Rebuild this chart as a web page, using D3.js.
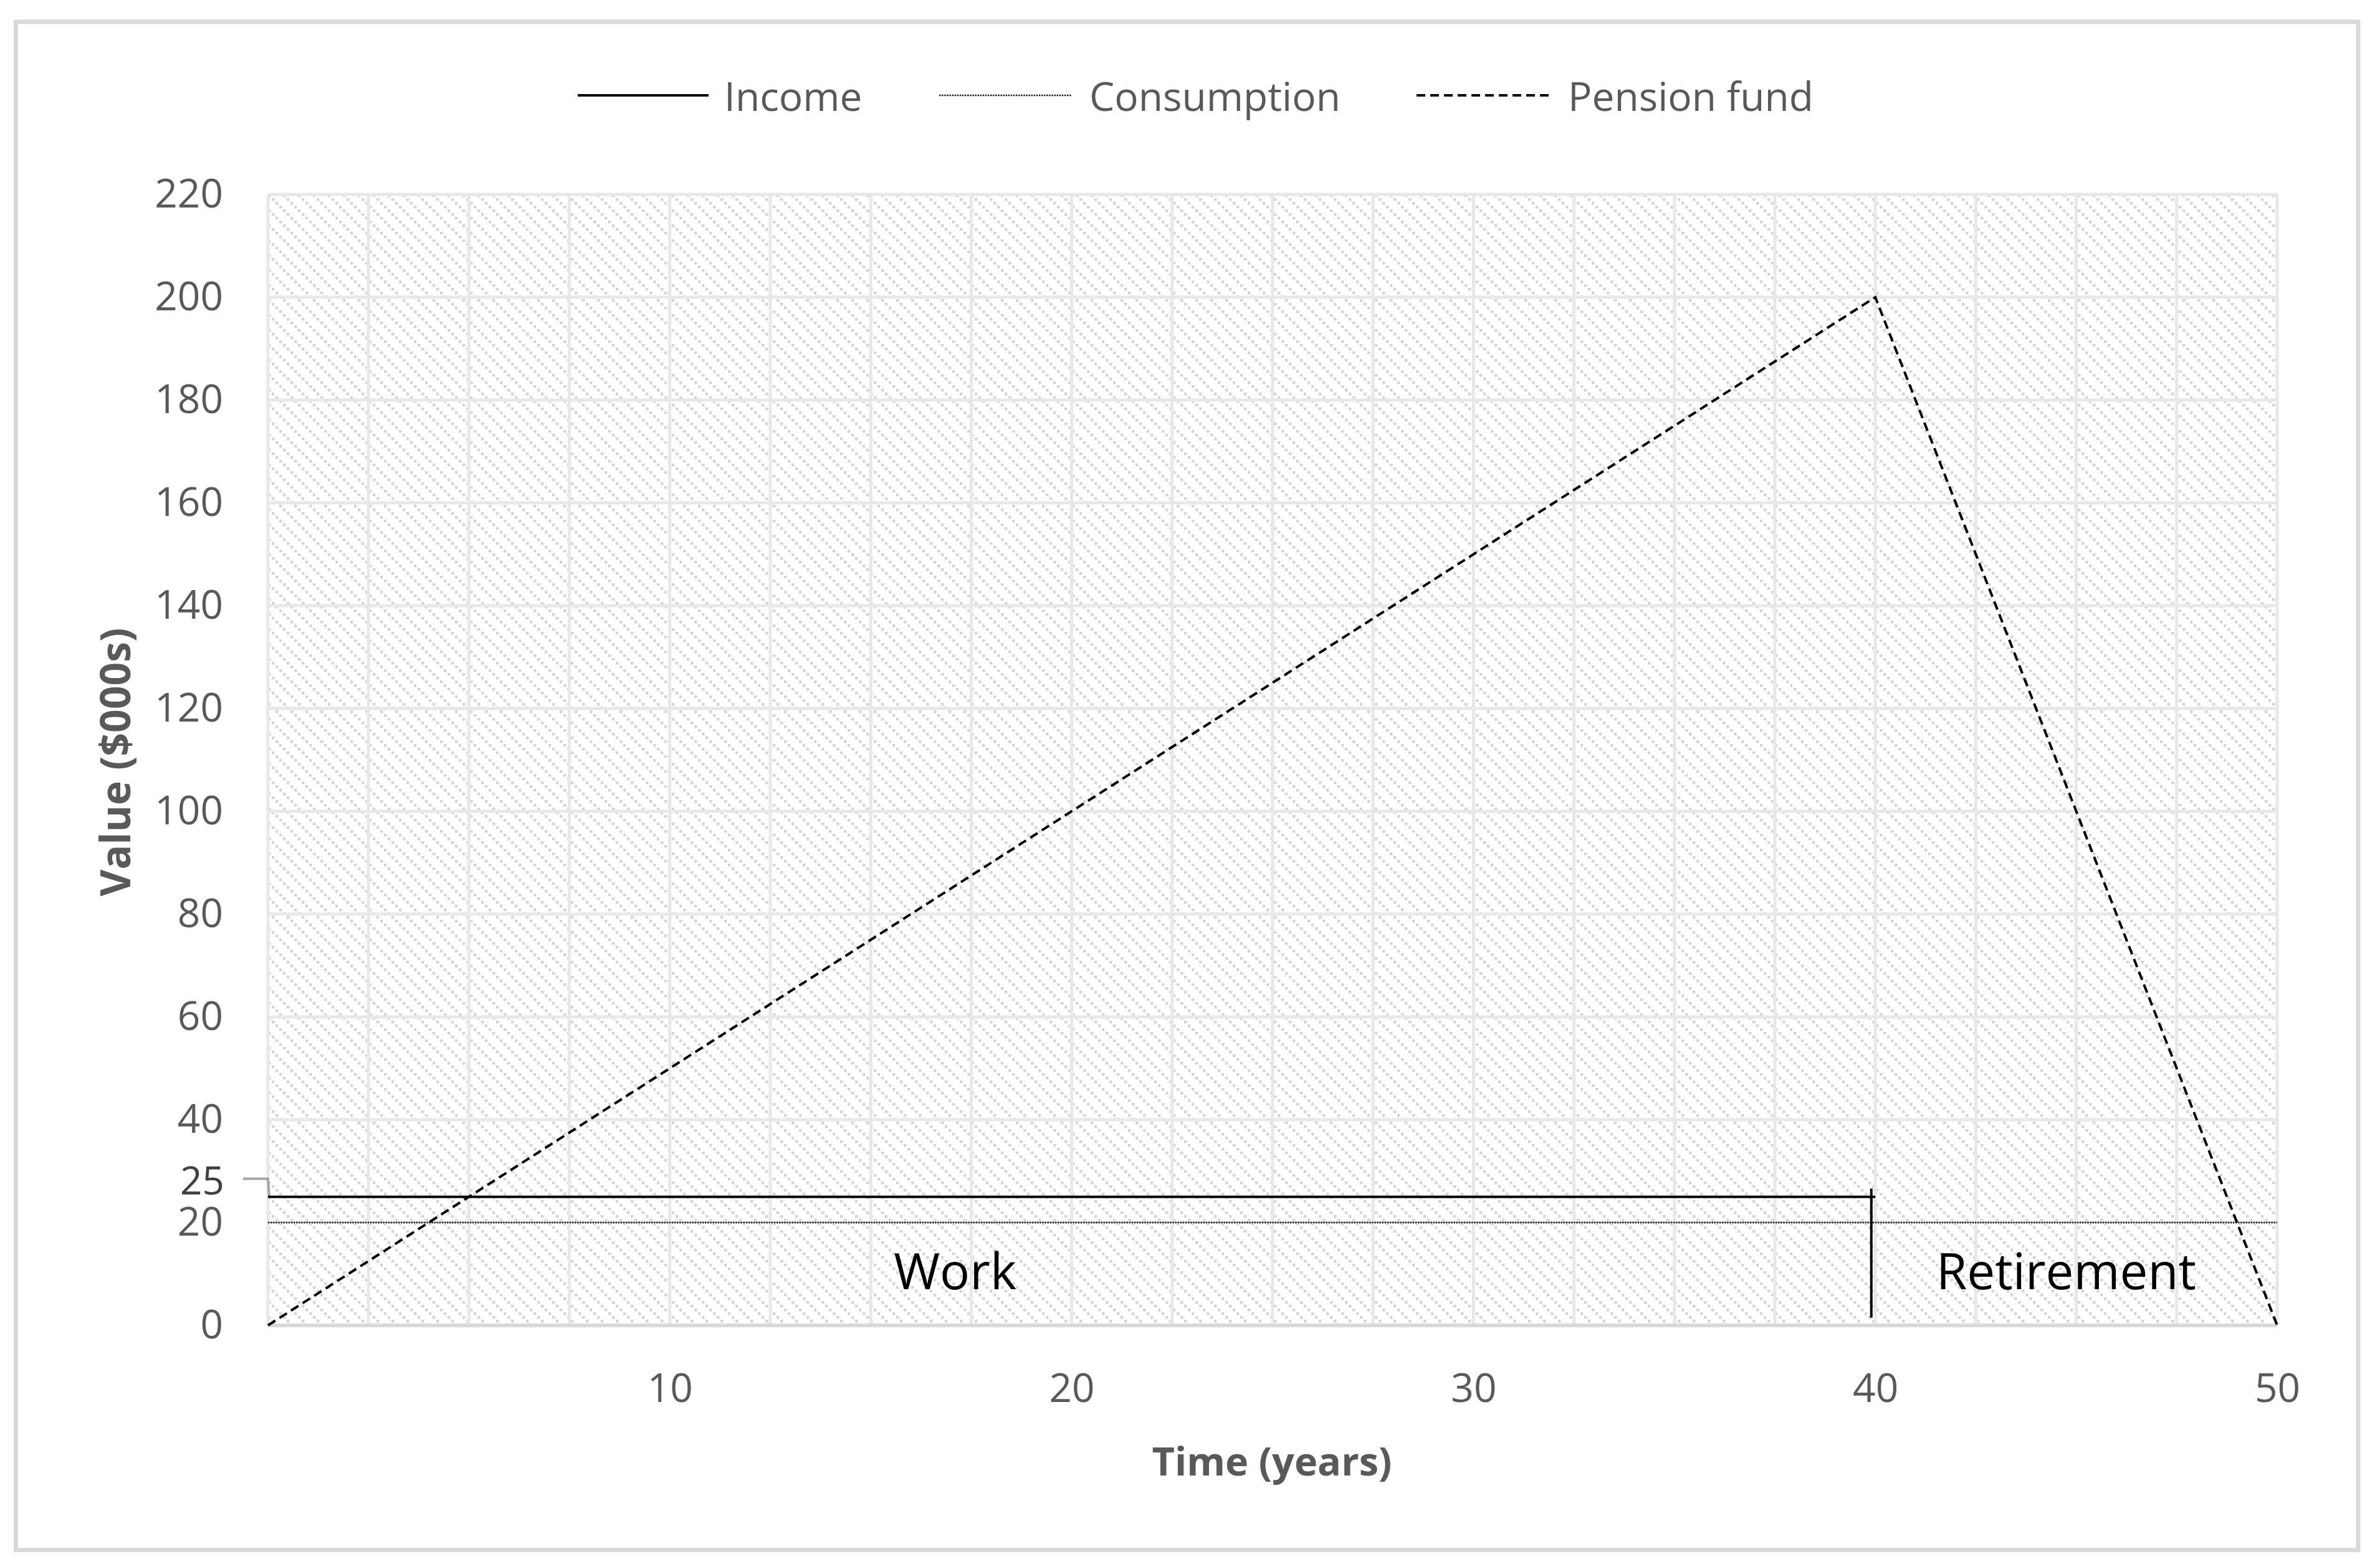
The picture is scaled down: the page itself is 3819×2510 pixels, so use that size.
<!DOCTYPE html>
<html>
<head>
<meta charset="utf-8">
<script src="https://cdn.jsdelivr.net/npm/d3@7"></script>
<style>
  html, body { margin: 0; padding: 0; background: #fff; }
  svg { display: block; }
  text { font-family: "Open Sans", "DejaVu Sans", sans-serif; }
</style>
</head>
<body>
<svg id="chart" width="3819" height="2510"></svg>
<script>
// ---------------- data ----------------
const seriesNames = ["Income", "Consumption", "Pension fund"];
const incomePoints = [[0, 25], [40, 25]];
const consumptionPoints = [[0, 20], [50, 20]];
const pensionPoints = [[0, 0], [40, 200], [50, 0]];
const dividerPoints = [[39.9, 26.6], [39.9, 1.5]];
const yTicks = [0, 20, 40, 60, 80, 100, 120, 140, 160, 180, 200, 220];
const yCallout = 25;
const xTicks = [10, 20, 30, 40, 50];
const xGridStep = 2.5;
const yGridStep = 20;
const phaseLabels = [{ text: "Work", x: 17.1, y: 10.8 }, { text: "Retirement", x: 44.75, y: 10.8 }];
const xTitle = "Time (years)";
const yTitle = "Value ($000s)";

// ---------------- layout ----------------
const W = 3819, H = 2510;
const plot = { left: 430, right: 3654, top: 312, bottom: 2127 };
const svg = d3.select("#chart");

const x = d3.scaleLinear().domain([0, 50]).range([plot.left, plot.right]);
const y = d3.scaleLinear().domain([0, 220]).range([plot.bottom, plot.top]);

// outer border
svg.append("rect")
  .attr("x", 25.5).attr("y", 35)
  .attr("width", 3758.5).attr("height", 2452.5)
  .attr("fill", "#fff").attr("stroke", "#d9d9d9").attr("stroke-width", 7);

// hatch pattern
const defs = svg.append("defs");
const P = 24, S = 4.5, STEP = 6;
const pat = defs.append("pattern")
  .attr("id", "hatch").attr("patternUnits", "userSpaceOnUse")
  .attr("width", P).attr("height", P)
  .attr("x", plot.left).attr("y", plot.top);
pat.append("rect").attr("width", P).attr("height", P).attr("fill", "#fff");
d3.range(0, P, STEP).forEach(d => {
  pat.append("rect").attr("x", d).attr("y", d).attr("width", S).attr("height", S).attr("fill", "#d6d6d6");
});

svg.append("rect")
  .attr("x", plot.left).attr("y", plot.top)
  .attr("width", plot.right - plot.left).attr("height", plot.bottom - plot.top)
  .attr("fill", "url(#hatch)");

// gridlines
const g = svg.append("g");
const xGrid = d3.range(xGridStep, 50 + 0.001, xGridStep);
g.selectAll(".vg").data(xGrid).join("line")
  .attr("x1", d => x(d)).attr("x2", d => x(d))
  .attr("y1", plot.top).attr("y2", plot.bottom)
  .attr("stroke", "#e8e8e8").attr("stroke-width", 5);
const yGrid = d3.range(yGridStep, 220 + 0.001, yGridStep);
g.selectAll(".hg").data(yGrid).join("line")
  .attr("x1", plot.left).attr("x2", plot.right)
  .attr("y1", d => y(d)).attr("y2", d => y(d))
  .attr("stroke", "#e8e8e8").attr("stroke-width", 5);
// left border of plot
g.append("line").attr("x1", plot.left).attr("x2", plot.left)
  .attr("y1", plot.top).attr("y2", plot.bottom)
  .attr("stroke", "#e8e8e8").attr("stroke-width", 5);

// x axis baseline
g.append("line").attr("x1", plot.left).attr("x2", plot.right)
  .attr("y1", y(0)).attr("y2", y(0))
  .attr("stroke", "#d9d9d9").attr("stroke-width", 6);

// y axis labels
const yAxis = d3.axisLeft(y).tickValues(yTicks).tickSize(0).tickPadding(72);
const yg = svg.append("g").attr("transform", `translate(${plot.left},0)`).call(yAxis);
yg.select(".domain").remove();
yg.selectAll("text").attr("font-size", 64).attr("fill", "#595959")
  .attr("font-family", '"Open Sans", sans-serif');

// 25 callout
svg.append("text").attr("x", 360).attr("y", y(yCallout) - 28)
  .attr("text-anchor", "end").attr("dominant-baseline", "central")
  .attr("font-size", 62).attr("fill", "#404040").text(yCallout);
svg.append("path")
  .attr("d", `M390,${y(yCallout) - 29} L${plot.left},${y(yCallout) - 29} L${plot.left + 2},${y(yCallout)}`)
  .attr("fill", "none").attr("stroke", "#a6a6a6").attr("stroke-width", 4);

// x axis labels
const xAxis = d3.axisBottom(x).tickValues(xTicks).tickSize(0).tickPadding(78);
const xg = svg.append("g").attr("transform", `translate(0,${plot.bottom})`).call(xAxis);
xg.select(".domain").remove();
xg.selectAll("text").attr("font-size", 64).attr("fill", "#595959")
  .attr("font-family", '"Open Sans", sans-serif');

// lines
const line = d3.line().x(d => x(d[0])).y(d => y(d[1]));
const styles = {
  "Income": { stroke: "#000", width: 4, dash: null },
  "Consumption": { stroke: "#1a1a1a", width: 2.5, dash: "2.5,1.6" },
  "Pension fund": { stroke: "#000", width: 4, dash: "14,8" }
};

svg.append("path").datum(consumptionPoints).attr("d", line)
  .attr("fill", "none").attr("stroke", styles["Consumption"].stroke)
  .attr("stroke-width", styles["Consumption"].width)
  .attr("stroke-dasharray", styles["Consumption"].dash);
svg.append("path").datum(incomePoints).attr("d", line)
  .attr("fill", "none").attr("stroke", "#000").attr("stroke-width", 4);
svg.append("path").datum(dividerPoints).attr("d", line)
  .attr("fill", "none").attr("stroke", "#000").attr("stroke-width", 4);
svg.append("path").datum(pensionPoints).attr("d", line)
  .attr("fill", "none").attr("stroke", "#000").attr("stroke-width", 4)
  .attr("stroke-dasharray", styles["Pension fund"].dash);

// phase labels
svg.selectAll(".phase").data(phaseLabels).join("text")
  .attr("x", d => x(d.x)).attr("y", d => y(d.y))
  .attr("text-anchor", "middle").attr("dominant-baseline", "central")
  .attr("font-size", 80).attr("fill", "#000").text(d => d.text);

// axis titles
svg.append("text").attr("x", 2041).attr("y", 2343)
  .attr("text-anchor", "middle").attr("dominant-baseline", "central")
  .attr("font-size", 63).attr("font-weight", "bold").attr("fill", "#595959").text(xTitle);
svg.append("text").attr("transform", "translate(183,1223) rotate(-90)")
  .attr("text-anchor", "middle").attr("dominant-baseline", "central")
  .attr("font-size", 66).attr("font-weight", "bold").attr("fill", "#595959").text(yTitle);

// legend
const legendItems = [
  { name: seriesNames[0], x1: 927, x2: 1137, tx: 1162 },
  { name: seriesNames[1], x1: 1507, x2: 1720, tx: 1748 },
  { name: seriesNames[2], x1: 2273, x2: 2487, tx: 2516 }
];
const ly = 153;
const lg = svg.append("g");
legendItems.forEach(it => {
  const st = styles[it.name];
  lg.append("line").attr("x1", it.x1).attr("x2", it.x2).attr("y1", ly).attr("y2", ly)
    .attr("stroke", st.stroke).attr("stroke-width", st.width)
    .attr("stroke-dasharray", st.dash);
  lg.append("text").attr("x", it.tx).attr("y", ly).attr("dominant-baseline", "central")
    .attr("font-size", 64).attr("fill", "#595959").text(it.name);
});
</script>
</body>
</html>
